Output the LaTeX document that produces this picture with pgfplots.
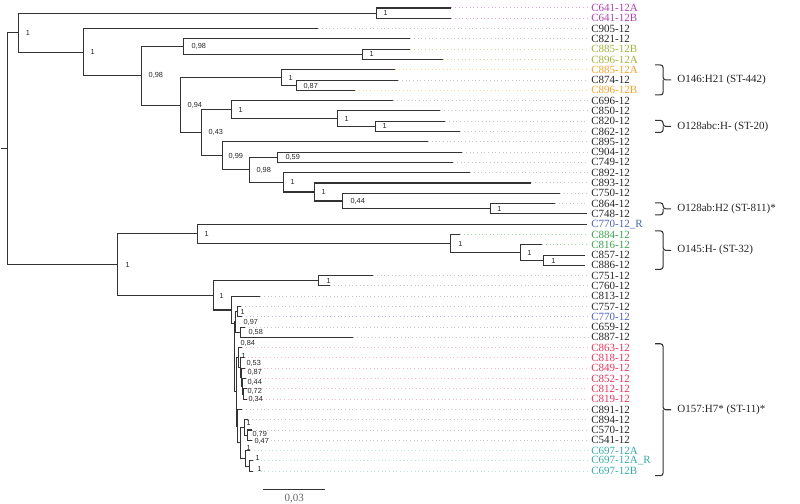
\documentclass[border=0pt]{standalone}
\usepackage{pgfplots}
\pgfplotsset{compat=1.18}
\usepackage{fontspec}
\setmainfont{Liberation Serif}
\newfontfamily\supfont{Liberation Sans}
\definecolor{treecol}{HTML}{333333}
\definecolor{cK}{HTML}{262626}
\definecolor{cPurple}{HTML}{B040B0}
\definecolor{cOlive}{HTML}{A4B23C}
\definecolor{cOrange}{HTML}{F4A229}
\definecolor{cBlue}{HTML}{4A62B8}
\definecolor{cGreen}{HTML}{3AA34A}
\definecolor{cRed}{HTML}{E8335A}
\definecolor{cTeal}{HTML}{35A9A9}
\pgfplotsset{
  tree/.style={draw=treecol,line width=0.8pt,mark=none,line join=miter},
  ext/.style={line width=0.75pt,dotted,mark=none},
}
\tikzset{
  sup/.style={anchor=west,inner sep=0pt,font=\supfont\fontsize{5.5}{6}\selectfont,text=cK},
  leaf/.style={anchor=west,inner sep=0pt,font=\fontsize{8.25}{9}\selectfont},
  grp/.style={anchor=west,inner sep=0pt,font=\fontsize{8.25}{9}\selectfont,text=cK},
}
\begin{document}
\begin{tikzpicture}
\begin{axis}[width=600pt,height=378pt,scale only axis,
  xmin=0,xmax=800,ymin=0,ymax=504,y dir=reverse,hide axis,clip=false]
\path (axis cs:0,0) rectangle (axis cs:800,504);
% ---------- dotted extensions ----------
\addplot[ext,draw=cPurple!45!white] coordinates {(451,8.0)(588,8.0)};
\addplot[ext,draw=cPurple!45!white] coordinates {(451,18.3)(588,18.3)};
\addplot[ext,draw=gray!45] coordinates {(318,28.6)(588,28.6)};
\addplot[ext,draw=gray!45] coordinates {(410,38.9)(588,38.9)};
\addplot[ext,draw=cOlive!50!white] coordinates {(410,49.2)(588,49.2)};
\addplot[ext,draw=cOlive!50!white] coordinates {(443,59.5)(588,59.5)};
\addplot[ext,draw=cOrange!50!white] coordinates {(395,69.8)(588,69.8)};
\addplot[ext,draw=gray!45] coordinates {(398,80.1)(588,80.1)};
\addplot[ext,draw=cOrange!50!white] coordinates {(355,90.4)(588,90.4)};
\addplot[ext,draw=gray!45] coordinates {(393,100.7)(588,100.7)};
\addplot[ext,draw=gray!45] coordinates {(440,111.0)(588,111.0)};
\addplot[ext,draw=gray!45] coordinates {(445,121.3)(588,121.3)};
\addplot[ext,draw=gray!45] coordinates {(460,131.6)(588,131.6)};
\addplot[ext,draw=gray!45] coordinates {(428,141.9)(588,141.9)};
\addplot[ext,draw=gray!45] coordinates {(462,152.2)(588,152.2)};
\addplot[ext,draw=gray!45] coordinates {(453,162.5)(588,162.5)};
\addplot[ext,draw=gray!45] coordinates {(470,172.8)(588,172.8)};
\addplot[ext,draw=gray!45] coordinates {(531,183.1)(588,183.1)};
\addplot[ext,draw=gray!45] coordinates {(560,193.4)(588,193.4)};
\addplot[ext,draw=gray!45] coordinates {(555,203.7)(588,203.7)};
\addplot[ext,draw=cGreen!45!white] coordinates {(460,234.6)(588,234.6)};
\addplot[ext,draw=cGreen!45!white] coordinates {(542,244.9)(588,244.9)};
\addplot[ext,draw=gray!45] coordinates {(373,275.8)(588,275.8)};
\addplot[ext,draw=gray!45] coordinates {(330,286.1)(588,286.1)};
\addplot[ext,draw=gray!45] coordinates {(260,296.4)(588,296.4)};
\addplot[ext,draw=gray!45] coordinates {(241,306.7)(588,306.7)};
\addplot[ext,draw=cBlue!40!white] coordinates {(242,317.0)(588,317.0)};
\addplot[ext,draw=gray!45] coordinates {(245,327.3)(588,327.3)};
\addplot[ext,draw=gray!45] coordinates {(353,337.6)(588,337.6)};
\addplot[ext,draw=cRed!35!white] coordinates {(242,347.9)(588,347.9)};
\addplot[ext,draw=cRed!35!white] coordinates {(244,358.2)(588,358.2)};
\addplot[ext,draw=cRed!35!white] coordinates {(245,368.5)(588,368.5)};
\addplot[ext,draw=cRed!35!white] coordinates {(246,378.8)(588,378.8)};
\addplot[ext,draw=cRed!35!white] coordinates {(247,389.1)(588,389.1)};
\addplot[ext,draw=cRed!35!white] coordinates {(247,399.4)(588,399.4)};
\addplot[ext,draw=gray!45] coordinates {(242,409.7)(588,409.7)};
\addplot[ext,draw=gray!45] coordinates {(248,420.0)(588,420.0)};
\addplot[ext,draw=gray!45] coordinates {(252,430.3)(588,430.3)};
\addplot[ext,draw=gray!45] coordinates {(252,440.6)(588,440.6)};
\addplot[ext,draw=cTeal!35!white] coordinates {(250,450.9)(588,450.9)};
\addplot[ext,draw=cTeal!35!white] coordinates {(253,461.2)(588,461.2)};
\addplot[ext,draw=cTeal!35!white] coordinates {(253,471.5)(588,471.5)};
% ---------- tree ----------
\addplot[tree] coordinates {(0,148.74)(7,148.74)};
\addplot[tree] coordinates {(18,32.7)(7,32.7)(7,264.77)(117,264.77)};
\addplot[tree] coordinates {(376,13.15)(18,13.15)(18,52.25)(83,52.25)};
\addplot[tree] coordinates {(451,8.0)(376,8.0)(376,18.3)(451,18.3)};
\addplot[tree] coordinates {(318,28.6)(83,28.6)(83,75.9)(141,75.9)};
\addplot[tree] coordinates {(183,46.63)(141,46.63)(141,105.17)(180,105.17)};
\addplot[tree] coordinates {(410,38.9)(183,38.9)(183,54.35)(362,54.35)};
\addplot[tree] coordinates {(410,49.2)(362,49.2)(362,59.5)(443,59.5)};
\addplot[tree] coordinates {(281,77.53)(180,77.53)(180,132.8)(201,132.8)};
\addplot[tree] coordinates {(395,69.8)(281,69.8)(281,85.25)(296,85.25)};
\addplot[tree] coordinates {(398,80.1)(296,80.1)(296,90.4)(355,90.4)};
\addplot[tree] coordinates {(231,109.71)(201,109.71)(201,155.9)(222,155.9)};
\addplot[tree] coordinates {(393,100.7)(231,100.7)(231,118.73)(337,118.73)};
\addplot[tree] coordinates {(440,111.0)(337,111.0)(337,126.45)(375,126.45)};
\addplot[tree] coordinates {(445,121.3)(375,121.3)(375,131.6)(460,131.6)};
\addplot[tree] coordinates {(428,141.9)(222,141.9)(222,169.9)(249,169.9)};
\addplot[tree] coordinates {(277,157.35)(249,157.35)(249,182.46)(283,182.46)};
\addplot[tree] coordinates {(462,152.2)(277,152.2)(277,162.5)(453,162.5)};
\addplot[tree] coordinates {(470,172.8)(283,172.8)(283,192.11)(314,192.11)};
\addplot[tree] coordinates {(531,183.1)(314,183.1)(314,201.13)(342,201.13)};
\addplot[tree] coordinates {(560,193.4)(342,193.4)(342,208.85)(490,208.85)};
\addplot[tree] coordinates {(555,203.7)(490,203.7)(490,214.0)(587,214.0)};
\addplot[tree] coordinates {(197,233.96)(117,233.96)(117,295.58)(213,295.58)};
\addplot[tree] coordinates {(587,224.3)(197,224.3)(197,243.61)(450,243.61)};
\addplot[tree] coordinates {(460,234.6)(450,234.6)(450,252.63)(520,252.63)};
\addplot[tree] coordinates {(542,244.9)(520,244.9)(520,260.35)(543,260.35)};
\addplot[tree] coordinates {(585,255.2)(543,255.2)(543,265.5)(585,265.5)};
\addplot[tree] coordinates {(318,280.95)(213,280.95)(213,310.2)(231,310.2)};
\addplot[tree] coordinates {(373,275.8)(318,275.8)(318,286.1)(330,286.1)};
\addplot[tree] coordinates {(260,296.4)(231,296.4)(231,324)(234,324)};
\addplot[tree] coordinates {(235,322.15)(234,322.15)(234,392.16)(236,392.16)};
\addplot[tree] coordinates {(237,311.85)(235,311.85)(235,332.45)(240,332.45)};
\addplot[tree] coordinates {(241,306.7)(237,306.7)(237,317.0)(242,317.0)};
\addplot[tree] coordinates {(245,327.3)(240,327.3)(240,337.6)(353,337.6)};
\addplot[tree] coordinates {(238,357.88)(236,357.88)(236,426.44)(237,426.44)};
\addplot[tree] coordinates {(242,347.9)(238,347.9)(238,367.86)(240,367.86)};
\addplot[tree] coordinates {(244,358.2)(240,358.2)(240,377.52)(241,377.52)};
\addplot[tree] coordinates {(245,368.5)(241,368.5)(241,386.53)(242,386.53)};
\addplot[tree] coordinates {(246,378.8)(242,378.8)(242,394.25)(243,394.25)};
\addplot[tree] coordinates {(247,389.1)(243,389.1)(243,399.4)(247,399.4)};
\addplot[tree] coordinates {(242,409.7)(237,409.7)(237,443.18)(240,443.18)};
\addplot[tree] coordinates {(244,427.73)(240,427.73)(240,458.63)(245,458.63)};
\addplot[tree] coordinates {(248,420.0)(244,420.0)(244,435.45)(247,435.45)};
\addplot[tree] coordinates {(252,430.3)(247,430.3)(247,440.6)(252,440.6)};
\addplot[tree] coordinates {(250,450.9)(245,450.9)(245,466.35)(249,466.35)};
\addplot[tree] coordinates {(253,461.2)(249,461.2)(249,471.5)(253,471.5)};
% scale bar
\addplot[tree] coordinates {(263,490)(325,490)};
\node[anchor=center,inner sep=0pt,font=\fontsize{8.25}{9}\selectfont,text=gray!80!black] at (axis cs:294,499) {0,03};
% ---------- support values ----------
\node[sup] at (axis cs:25,32.7) {1};
\node[sup] at (axis cs:90,52.25) {1};
\node[sup] at (axis cs:383,13.15) {1};
\node[sup] at (axis cs:148,75.9) {0,98};
\node[sup] at (axis cs:191,46.63) {0,98};
\node[sup] at (axis cs:369,54.35) {1};
\node[sup] at (axis cs:187,105.17) {0,94};
\node[sup] at (axis cs:288,77.53) {1};
\node[sup] at (axis cs:303,86.5) {0,87};
\node[sup] at (axis cs:208,132.8) {0,43};
\node[sup] at (axis cs:238,109.71) {1};
\node[sup] at (axis cs:344,118.73) {1};
\node[sup] at (axis cs:382,126.45) {1};
\node[sup] at (axis cs:228,156.5) {0,99};
\node[sup] at (axis cs:256,171) {0,98};
\node[sup] at (axis cs:285,157.35) {0,59};
\node[sup] at (axis cs:290,182.46) {1};
\node[sup] at (axis cs:321,192.11) {1};
\node[sup] at (axis cs:350,202) {0,44};
\node[sup] at (axis cs:497,209.5) {1};
\node[sup] at (axis cs:125,265.5) {1};
\node[sup] at (axis cs:204,234) {1};
\node[sup] at (axis cs:458,244) {1};
\node[sup] at (axis cs:527,253) {1};
\node[sup] at (axis cs:551,261) {1};
\node[sup] at (axis cs:219,296.5) {1};
\node[sup] at (axis cs:326,281.5) {1};
\node[sup] at (axis cs:240,312) {1};
\node[sup] at (axis cs:243,322.5) {0,97};
\node[sup] at (axis cs:248,333) {0,58};
\node[sup] at (axis cs:240,344) {0,84};
\node[sup] at (axis cs:241,356) {1};
\node[sup] at (axis cs:246,364) {0,53};
\node[sup] at (axis cs:247,372.5) {0,87};
\node[sup] at (axis cs:247,383) {0,44};
\node[sup] at (axis cs:247,392) {0,72};
\node[sup] at (axis cs:248,399.5) {0,34};
\node[sup] at (axis cs:246,423) {1};
\node[sup] at (axis cs:252,435) {0,79};
\node[sup] at (axis cs:254,441.5) {0,47};
\node[sup] at (axis cs:246,448) {1};
\node[sup] at (axis cs:255,458) {1};
\node[sup] at (axis cs:257,469) {1};
% ---------- leaf labels ----------
\node[leaf,text=cPurple] at (axis cs:591,8.0) {C641-12A};
\node[leaf,text=cPurple] at (axis cs:591,18.3) {C641-12B};
\node[leaf,text=cK] at (axis cs:591,28.6) {C905-12};
\node[leaf,text=cK] at (axis cs:591,38.9) {C821-12};
\node[leaf,text=cOlive] at (axis cs:591,49.2) {C885-12B};
\node[leaf,text=cOlive] at (axis cs:591,59.5) {C896-12A};
\node[leaf,text=cOrange] at (axis cs:591,69.8) {C885-12A};
\node[leaf,text=cK] at (axis cs:591,80.1) {C874-12};
\node[leaf,text=cOrange] at (axis cs:591,90.4) {C896-12B};
\node[leaf,text=cK] at (axis cs:591,100.7) {C696-12};
\node[leaf,text=cK] at (axis cs:591,111.0) {C850-12};
\node[leaf,text=cK] at (axis cs:591,121.3) {C820-12};
\node[leaf,text=cK] at (axis cs:591,131.6) {C862-12};
\node[leaf,text=cK] at (axis cs:591,141.9) {C895-12};
\node[leaf,text=cK] at (axis cs:591,152.2) {C904-12};
\node[leaf,text=cK] at (axis cs:591,162.5) {C749-12};
\node[leaf,text=cK] at (axis cs:591,172.8) {C892-12};
\node[leaf,text=cK] at (axis cs:591,183.1) {C893-12};
\node[leaf,text=cK] at (axis cs:591,193.4) {C750-12};
\node[leaf,text=cK] at (axis cs:591,203.7) {C864-12};
\node[leaf,text=cK] at (axis cs:591,214.0) {C748-12};
\node[leaf,text=cBlue] at (axis cs:591,224.3) {C770-12\_R};
\node[leaf,text=cGreen] at (axis cs:591,234.6) {C884-12};
\node[leaf,text=cGreen] at (axis cs:591,244.9) {C816-12};
\node[leaf,text=cK] at (axis cs:591,255.2) {C857-12};
\node[leaf,text=cK] at (axis cs:591,265.5) {C886-12};
\node[leaf,text=cK] at (axis cs:591,275.8) {C751-12};
\node[leaf,text=cK] at (axis cs:591,286.1) {C760-12};
\node[leaf,text=cK] at (axis cs:591,296.4) {C813-12};
\node[leaf,text=cK] at (axis cs:591,306.7) {C757-12};
\node[leaf,text=cBlue] at (axis cs:591,317.0) {C770-12};
\node[leaf,text=cK] at (axis cs:591,327.3) {C659-12};
\node[leaf,text=cK] at (axis cs:591,337.6) {C887-12};
\node[leaf,text=cRed] at (axis cs:591,347.9) {C863-12};
\node[leaf,text=cRed] at (axis cs:591,358.2) {C818-12};
\node[leaf,text=cRed] at (axis cs:591,368.5) {C849-12};
\node[leaf,text=cRed] at (axis cs:591,378.8) {C852-12};
\node[leaf,text=cRed] at (axis cs:591,389.1) {C812-12};
\node[leaf,text=cRed] at (axis cs:591,399.4) {C819-12};
\node[leaf,text=cK] at (axis cs:591,409.7) {C891-12};
\node[leaf,text=cK] at (axis cs:591,420.0) {C894-12};
\node[leaf,text=cK] at (axis cs:591,430.3) {C570-12};
\node[leaf,text=cK] at (axis cs:591,440.6) {C541-12};
\node[leaf,text=cTeal] at (axis cs:591,450.9) {C697-12A};
\node[leaf,text=cTeal] at (axis cs:591,461.2) {C697-12A\_R};
\node[leaf,text=cTeal] at (axis cs:591,471.5) {C697-12B};
% ---------- group brackets ----------
\addplot[tree,line width=0.8pt,rounded corners=2pt] coordinates {(655,65)(663,65)(663,80)(671,80)};
\addplot[tree,line width=0.8pt,rounded corners=2pt] coordinates {(663,80)(663,95)(655,95)};
\node[grp] at (axis cs:677,80) {O146:H21 (ST-442)};
\addplot[tree,line width=0.8pt,rounded corners=2pt] coordinates {(655,120.5)(663,120.5)(663,126.5)(671,126.5)};
\addplot[tree,line width=0.8pt,rounded corners=2pt] coordinates {(663,126.5)(663,132.5)(655,132.5)};
\node[grp] at (axis cs:677,126.5) {O128abc:H- (ST-20)};
\addplot[tree,line width=0.8pt,rounded corners=2pt] coordinates {(655,203)(663,203)(663,209)(671,209)};
\addplot[tree,line width=0.8pt,rounded corners=2pt] coordinates {(663,209)(663,215)(655,215)};
\node[grp] at (axis cs:677,209) {O128ab:H2 (ST-811)*};
\addplot[tree,line width=0.8pt,rounded corners=2pt] coordinates {(655,231)(663,231)(663,250.5)(671,250.5)};
\addplot[tree,line width=0.8pt,rounded corners=2pt] coordinates {(663,250.5)(663,269.5)(655,269.5)};
\node[grp] at (axis cs:677,250.5) {O145:H- (ST-32)};
\addplot[tree,line width=0.8pt,rounded corners=2pt] coordinates {(655,344)(663,344)(663,410)(671,410)};
\addplot[tree,line width=0.8pt,rounded corners=2pt] coordinates {(663,410)(663,476)(655,476)};
\node[grp] at (axis cs:677,410) {O157:H7* (ST-11)*};
\end{axis}
\end{tikzpicture}
\end{document}
